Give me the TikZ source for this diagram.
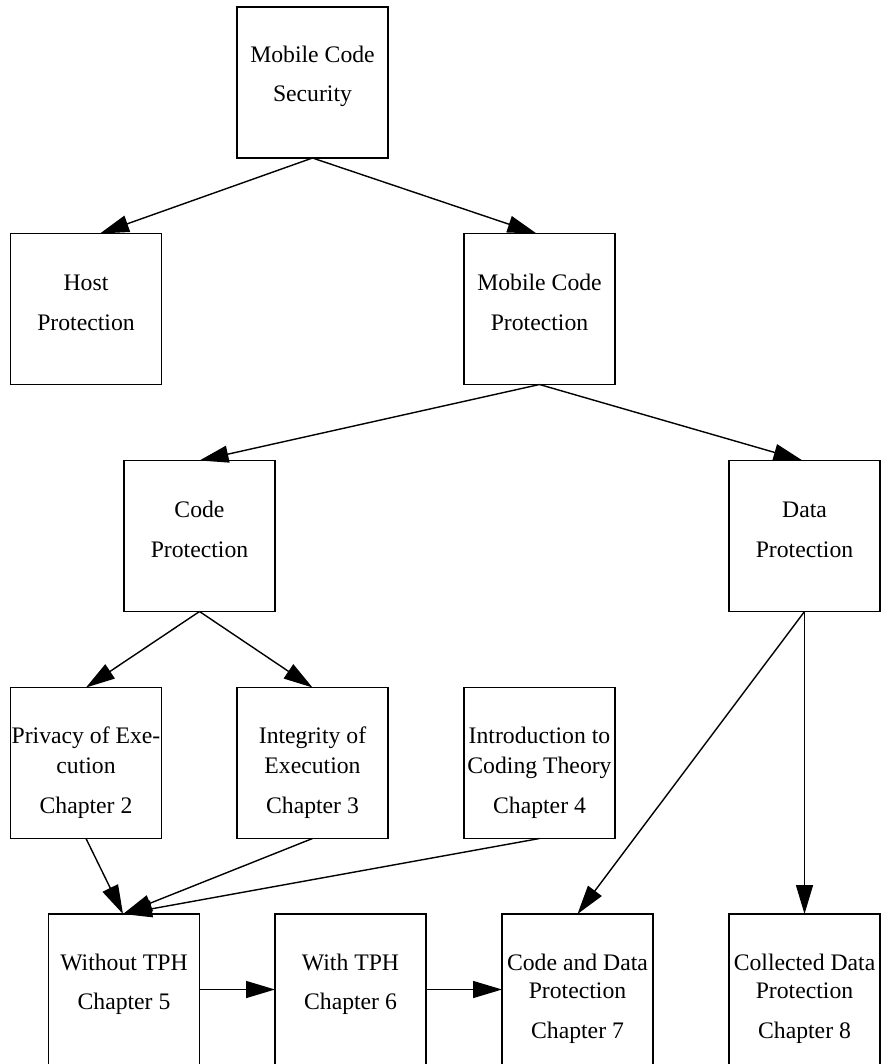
\documentclass[tikz,border=0pt]{standalone}
\usepackage{fontspec}
\setmainfont{Liberation Serif}
\usetikzlibrary{arrows.meta,calc}
\begin{document}
\begin{tikzpicture}[x=1pt,y=-1pt,
  box/.style={draw, line width=1.4pt, minimum width=151pt, minimum height=151pt, inner sep=0pt, outer sep=0pt},
  txt/.style={anchor=base, inner sep=0pt, font=\fontsize{23.7}{28}\selectfont},
  edge/.style={line width=1.4pt, -{Triangle[length=29pt,width=17pt]}}]
\useasboundingbox (0,0) rectangle (893,1064);
\clip (0,0) rectangle (893,1064);
\newcommand{\boxline}[4]{\node[txt] (#1) at ($(#2.north)+(0,#3)$) {#4};}
% boxes
\node[box] (sec) at (312.5,82.5) {};
\node[box] (host) at (86,309) {};
\node[box] (mcp) at (539.5,309) {};
\node[box] (code) at (199.5,536) {};
\node[box] (data) at (804.5,536) {};
\node[box] (priv) at (86,763) {};
\node[box] (integ) at (312.5,763) {};
\node[box] (intro) at (539.5,763) {};
\node[box] (without) at (124,989.5) {};
\node[box] (with) at (350.5,989.5) {};
\node[box] (codedata) at (577.5,989.5) {};
\node[box] (coll) at (804.5,989.5) {};
% texts
\boxline{secA}{sec}{56}{Mobile Code}
\boxline{secB}{sec}{95}{Security}
\boxline{hostA}{host}{57}{Host}
\boxline{hostB}{host}{97}{Protection}
\boxline{mcpA}{mcp}{57}{Mobile Code}
\boxline{mcpB}{mcp}{97}{Protection}
\boxline{codeA}{code}{57}{Code}
\boxline{codeB}{code}{97}{Protection}
\boxline{dataA}{data}{57}{Data}
\boxline{dataB}{data}{97}{Protection}
\boxline{privA}{priv}{56}{Privacy of Exe-}
\boxline{privB}{priv}{86}{cution}
\boxline{privC}{priv}{126}{Chapter 2}
\boxline{integA}{integ}{56}{Integrity of}
\boxline{integB}{integ}{86}{Execution}
\boxline{integC}{integ}{126}{Chapter 3}
\boxline{introA}{intro}{56}{Introduction to}
\boxline{introB}{intro}{86}{Coding Theory}
\boxline{introC}{intro}{126}{Chapter 4}
\boxline{withoutA}{without}{56}{Without TPH}
\boxline{withoutB}{without}{95}{Chapter 5}
\boxline{withA}{with}{56}{With TPH}
\boxline{withB}{with}{95}{Chapter 6}
\boxline{cdA}{codedata}{56}{Code and Data}
\boxline{cdB}{codedata}{84}{Protection}
\boxline{cdC}{codedata}{124}{Chapter 7}
\boxline{collA}{coll}{56}{Collected Data}
\boxline{collB}{coll}{84}{Protection}
\boxline{collC}{coll}{124}{Chapter 8}
% edges
\draw[edge] (sec.south) -- ($(host.north)+(14,0)$);
\draw[edge] (sec.south) -- ($(mcp.north)+(-3,0)$);
\draw[edge] (mcp.south) -- (code.north);
\draw[edge] (mcp.south) -- ($(data.north)+(-2,0)$);
\draw[edge] (code.south) -- (priv.north);
\draw[edge] (code.south) -- (integ.north);
\draw[edge] (priv.south) -- ($(without.north)+(-1,0)$);
\draw[edge] (integ.south) -- ($(without.north)+(-1,0)$);
\draw[edge] (intro.south) -- ($(without.north)+(-1,0)$);
\draw[edge] (without.east) -- (with.west);
\draw[edge] (with.east) -- (codedata.west);
\draw[edge] (data.south) -- (codedata.north);
\draw[edge] (data.south) -- (coll.north);
\end{tikzpicture}
\end{document}
